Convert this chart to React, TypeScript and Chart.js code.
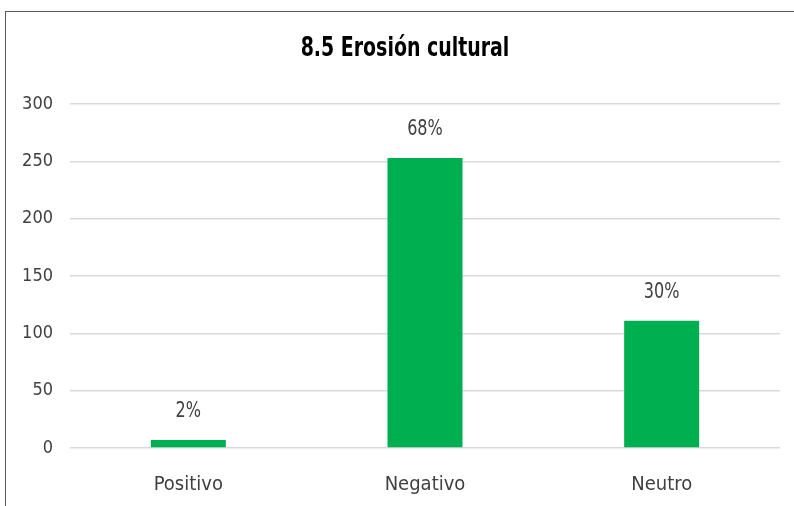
import React, { useEffect, useRef } from "react";
import { Chart, registerables } from "chart.js";

Chart.register(...registerables);

const TITLE = "8.5 Erosión cultural";
const categories = ["Positivo", "Negativo", "Neutro"];
const counts = [7, 253, 111];
const percentLabels = ["2%", "68%", "30%"];
const yTicks = [0, 50, 100, 150, 200, 250, 300];

const FONT = "'Liberation Sans Narrow', 'DejaVu Sans Condensed', 'Open Sans', sans-serif";
const TEXT = "#404040";

const labelPlugin = {
  id: "pctLabels",
  afterDatasetsDraw(chart: any) {
    const ctx = chart.ctx;
    const meta = chart.getDatasetMeta(0);
    const sx = 0.85;
    ctx.save();
    ctx.font = `21px ${FONT}`;
    ctx.fillStyle = TEXT;
    ctx.textAlign = "center";
    ctx.textBaseline = "middle";
    meta.data.forEach((el: any, i: number) => {
      ctx.save();
      ctx.translate(el.x, el.y - 28);
      ctx.scale(sx, 1);
      ctx.fillText(percentLabels[i], 0, 0);
      ctx.restore();
    });
    ctx.restore();
  },
};

export default function App() {
  const ref = useRef<HTMLCanvasElement | null>(null);
  useEffect(() => {
    if (!ref.current) return;
    const chart = new Chart(ref.current, {
      type: "bar",
      data: {
        labels: categories,
        datasets: [
          {
            data: counts,
            backgroundColor: "#00B050",
            borderWidth: 0,
            barPercentage: 0.317,
            categoryPercentage: 1,
          },
        ],
      },
      options: {
        responsive: false,
        animation: false,
        layout: { padding: { left: 10, right: 14, top: 104, bottom: 0 } },
        plugins: {
          legend: { display: false },
          tooltip: { enabled: false },
          title: { display: false },
        },
        scales: {
          x: {
            grid: { display: false, drawTicks: false },
            border: { display: false },
            ticks: { color: TEXT, font: { family: FONT, size: 20 }, padding: 25 },
            afterFit(scale: any) {
              scale.height = 506 - 448;
            },
          },
          y: {
            min: 0,
            max: 300,
            afterBuildTicks(scale: any) {
              scale.ticks = yTicks.map((v) => ({ value: v }));
            },
            grid: { color: "#D9D9D9", lineWidth: 1.5, drawTicks: false },
            border: { display: false },
            ticks: { color: TEXT, font: { family: FONT, size: 18 }, padding: 17 },
            afterFit(scale: any) {
              scale.width = 70 - 10;
            },
          },
        },
      },
      plugins: [labelPlugin],
    });
    return () => chart.destroy();
  }, []);

  return (
    <div
      style={{
        position: "fixed",
        left: 0,
        top: 0,
        width: 794,
        height: 506,
        background: "#ffffff",
        overflow: "hidden",
      }}
    >
      <div
        style={{
          position: "absolute",
          left: 5,
          top: 11,
          width: 900,
          height: 600,
          border: "1px solid #595959",
          boxSizing: "border-box",
        }}
      />
      <canvas
        ref={ref}
        width={794}
        height={506}
        style={{ position: "absolute", left: 0, top: 0, width: 794, height: 506 }}
      />
      <div
        style={{
          position: "absolute",
          left: 5,
          top: 32,
          width: 800,
          height: 30,
          lineHeight: "30px",
          textAlign: "center",
          fontFamily: FONT,
          fontWeight: "bold",
          fontSize: 27,
          color: "#000000",
          transform: "scaleX(0.78)",
          transformOrigin: "center",
          whiteSpace: "nowrap",
        }}
      >
        {TITLE}
      </div>
    </div>
  );
}
